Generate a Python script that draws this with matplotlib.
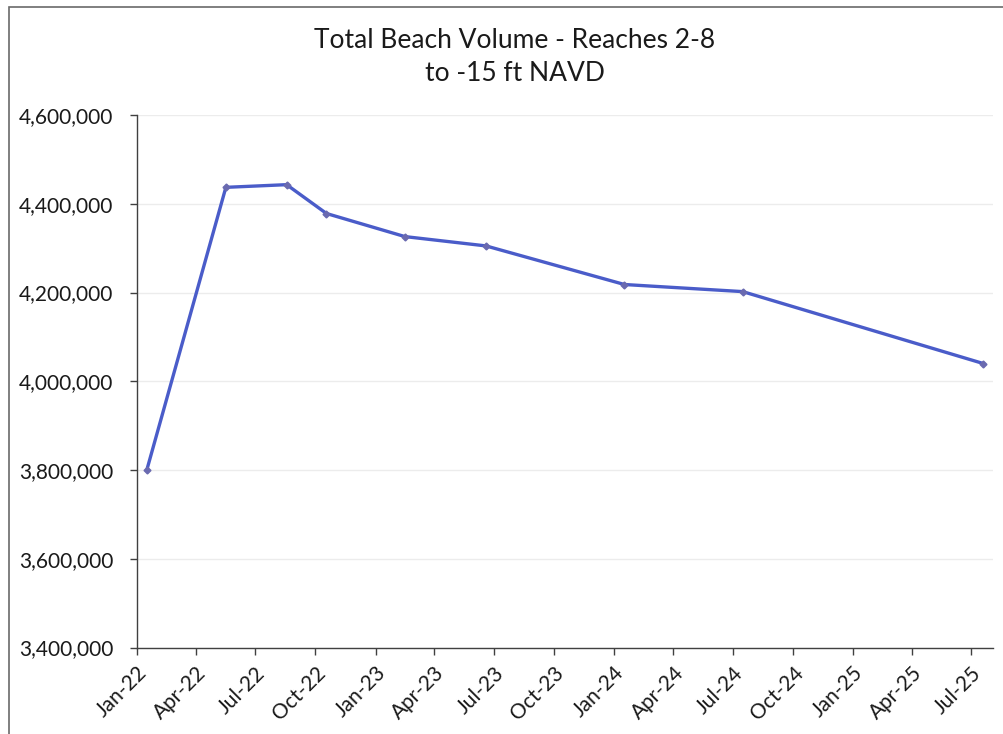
import matplotlib
matplotlib.use("Agg")
import matplotlib.pyplot as plt
import matplotlib.dates as mdates
from matplotlib.ticker import FuncFormatter, MultipleLocator
from matplotlib.patches import Rectangle
import pandas as pd

plt.rcParams['font.family'] = ['Lato', 'DejaVu Sans']

survey_dates = ['2022-01-16', '2022-05-17', '2022-08-18', '2022-10-18', '2023-02-15',
                '2023-06-19', '2024-01-17', '2024-07-16', '2025-07-19']
volumes = [3800000, 4437000, 4443000, 4378000, 4326000, 4305000, 4218000, 4202000, 4040000]
title_text = "Total Beach Volume - Reaches 2-8\nto -15 ft NAVD"

W, H = 1004, 734
fig = plt.figure(figsize=(W / 100, H / 100), dpi=100)
ax = fig.add_axes([137 / W, 1 - 647.5 / H, (993 - 137) / W, (647.5 - 115) / H])

x = pd.to_datetime(survey_dates)
ax.plot(x, volumes, color='#4A5CC9', lw=2.4, marker='D', ms=3.5,
        mfc='#6A6AB0', mec='#6A6AB0', zorder=3)

ax.set_ylim(3400000, 4600000)
ax.yaxis.set_major_locator(MultipleLocator(200000))
ax.yaxis.set_major_formatter(FuncFormatter(lambda v, p: f"{int(v):,}"))
ax.set_xlim(pd.Timestamp('2022-01-01'), pd.Timestamp('2025-08-03'))
ax.xaxis.set_major_locator(mdates.MonthLocator(bymonth=[1, 4, 7, 10]))
ax.xaxis.set_major_formatter(mdates.DateFormatter('%b-%y'))

ax.grid(axis='y', color='#ECECEC', lw=1)
ax.set_axisbelow(True)
for s in ['top', 'right']:
    ax.spines[s].set_visible(False)
for s in ['left', 'bottom']:
    ax.spines[s].set_color('#404040')
    ax.spines[s].set_linewidth(1)
ax.tick_params(axis='both', direction='out', length=5, width=1, color='#404040',
               labelsize=15, labelcolor='#1a1a1a')
ax.tick_params(axis='y', pad=12)
ax.tick_params(axis='x', pad=6)
for lab in ax.get_xticklabels():
    lab.set_rotation(45)
    lab.set_ha('right')
    lab.set_rotation_mode('anchor')

fig.text(515 / W, 1 - 57 / H, title_text, ha='center', va='center',
         fontsize=19, color='#1a1a1a', linespacing=1.38)

fig.patches.append(Rectangle((9 / W, -0.05), 1.2, 1 - 7 / H + 0.05,
                             transform=fig.transFigure, fill=False,
                             edgecolor='#6A6A6A', lw=1.2))

fig.savefig('out.png', dpi=100, facecolor='white')
